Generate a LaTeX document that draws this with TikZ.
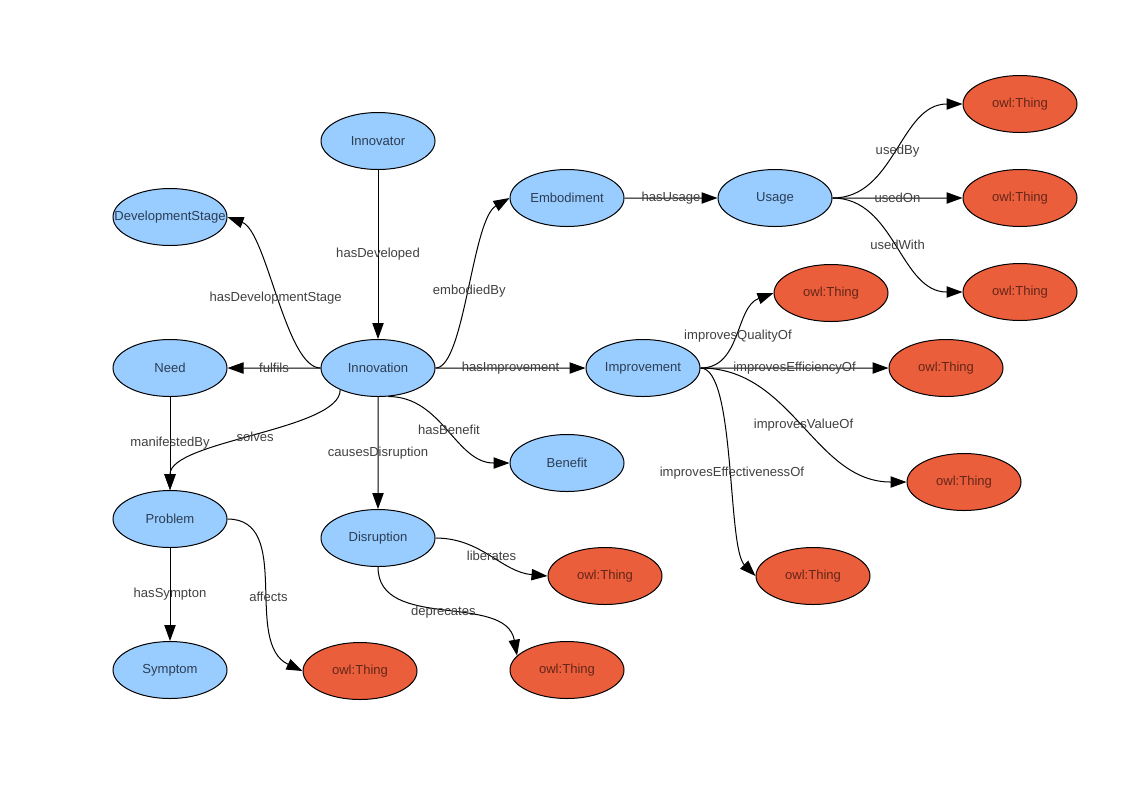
\documentclass[tikz,border=0pt]{standalone}
\usepackage{fontspec}
\setmainfont{Liberation Sans}
\usepackage{tikz}
\definecolor{cb}{RGB}{153, 204, 255}
\definecolor{co}{RGB}{235, 94, 60}
\definecolor{tb}{RGB}{44, 62, 84}
\definecolor{to}{RGB}{100, 38, 24}
\definecolor{tl}{RGB}{64, 64, 64}
\usetikzlibrary{shapes.geometric}
\usetikzlibrary{arrows.meta}

\begin{document}
\begin{tikzpicture}[scale=0.75,
  cls/.style={ellipse, minimum width=85.5pt, minimum height=42.75pt, inner sep=0pt, fill=cb, line width=0.75pt, draw=black, text=tb, font=\fontsize{9.8}{12}\selectfont},
  thing/.style={cls, fill=co, text=to},
  relarrow/.style={line width=0.75pt, color=black, -{Triangle[length=12pt, width=8.5pt]}},
  lbl/.style={inner sep=0pt, text=tl, font=\fontsize{9.8}{12}\selectfont}]
\useasboundingbox (0pt, 0pt) rectangle (1123pt, -794pt);
\node (1) [cls] at (378.0pt, -141.0pt) {Innovator};
\node (2) [cls] at (170.0pt, -217.0pt) {\makebox[0pt]{DevelopmentStage}};
\node (3) [cls] at (170.0pt, -368.0pt) {Need};
\node (4) [cls] at (378.0pt, -368.0pt) {Innovation};
\node (5) [cls] at (567.0pt, -198.0pt) {Embodiment};
\node (6) [cls] at (775.0pt, -198.0pt) {Usage};
\node (7) [thing] at (1020.0pt, -104.0pt) {owl:Thing};
\node (8) [thing] at (1020.0pt, -198.0pt) {owl:Thing};
\node (9) [thing] at (1020.0pt, -292.0pt) {owl:Thing};
\node (10) [thing] at (831.0pt, -293.0pt) {owl:Thing};
\node (11) [cls] at (643.0pt, -368.0pt) {Improvement};
\node (12) [thing] at (946.0pt, -368.0pt) {owl:Thing};
\node (13) [cls] at (567.0pt, -463.0pt) {Benefit};
\node (14) [thing] at (964.0pt, -482.0pt) {owl:Thing};
\node (15) [cls] at (170.0pt, -519.0pt) {Problem};
\node (16) [cls] at (378.0pt, -538.0pt) {Disruption};
\node (17) [thing] at (605.0pt, -576.0pt) {owl:Thing};
\node (18) [thing] at (813.0pt, -576.0pt) {owl:Thing};
\node (19) [cls] at (170.0pt, -670.0pt) {Symptom};
\node (20) [thing] at (360.0pt, -671.0pt) {owl:Thing};
\node (21) [thing] at (567.0pt, -670.0pt) {owl:Thing};
\draw [relarrow] (1) -- node[lbl] {hasDeveloped} (4);
\draw [relarrow] (4.west) to[out=180, in=-20, out looseness=0.5, in looseness=0.6] node[lbl] {hasDevelopmentStage} (2.east);
\draw [relarrow] (4) -- node[lbl] {fulfils} (3);
\draw [relarrow] (4.east) to[out=0, in=-150, out looseness=0.4, in looseness=0.6] node[lbl] {embodiedBy} (5.west);
\draw [relarrow] (5) -- node[lbl] {hasUsage} (6);
\draw [relarrow] (6.east) to[out=0, in=180] node[lbl] {usedBy} (7.west);
\draw [relarrow] (6) -- node[lbl] {usedOn} (8);
\draw [relarrow] (6.east) to[out=0, in=180] node[lbl] {usedWith} (9.west);
\draw [relarrow] (4) -- node[lbl] {hasImprovement} (11);
\draw [relarrow] (11.east) to[out=0, in=-160] node[lbl] {improvesQualityOf} (10.west);
\draw [relarrow] (11) -- node[lbl] {improvesEfficiencyOf} (12);
\draw [relarrow] (11.east) to[out=0, in=180] node[lbl] {improvesValueOf} (14.west);
\draw [relarrow] (11.east) to[out=0, in=135, out looseness=0.42, in looseness=0.48] node[lbl, pos=0.54] {improvesEffectivenessOf} (18.west);
\draw [relarrow] (4.-70) to[out=0, in=180] node[lbl] {hasBenefit} (13.west);
\draw [relarrow] (4.-150) to[out=-90, in=90, out looseness=0.52, in looseness=0.64] node[lbl] {solves} (15.north);
\draw [relarrow] (3) -- node[lbl] {manifestedBy} (15);
\draw [relarrow] (4) -- node[lbl] {causesDisruption} (16);
\draw [relarrow] (16.east) to[out=0, in=175] node[lbl] {liberates} (17.west);
\draw [relarrow] (16.south) to[out=-90, in=100] node[lbl] {deprecates} (21.164);
\draw [relarrow] (15) -- node[lbl] {hasSympton} (19);
\draw [relarrow] (15.east) to[out=0, in=155] node[lbl, pos=0.56] {affects} (20.west);
\end{tikzpicture}
\end{document}
